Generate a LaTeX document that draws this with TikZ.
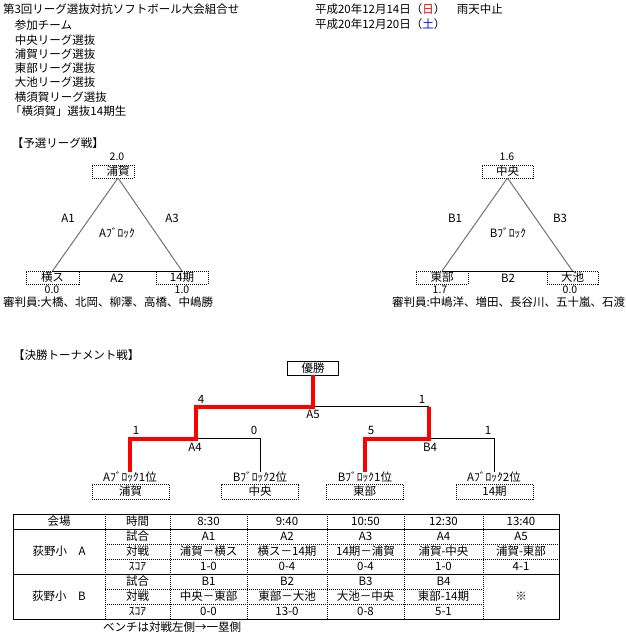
\documentclass[tikz,border=0pt]{standalone}
\usepackage{fontspec}
\setmainfont{Noto Sans CJK JP}
\begin{document}
\begin{tikzpicture}[x=1pt,y=-1pt,
  every node/.style={inner sep=0pt,outer sep=0pt,font=\fontsize{11.5}{13}\selectfont},
  lt/.style={anchor=west},
  dotbox/.style={draw,line width=1pt,dash pattern=on 1pt off 1pt,minimum height=13pt},
  tbox/.style={draw,line width=1pt,dash pattern=on 1pt off 1pt,minimum width=77pt,minimum height=15pt},
  sideline/.style={draw=black!55,line width=1pt},
  kline/.style={line width=1pt,black},
  rline/.style={line width=4pt,red,line join=miter},
  dotline/.style={line width=1pt,dash pattern=on 1pt off 1pt},
  score/.style={font=\fontsize{10.5}{12}\selectfont},
]
\useasboundingbox[fill=white] (0,0) rectangle (625,635);

% header texts
\node[lt] (title) at (3,9) {第3回リーグ選抜対抗ソフトボール大会組合せ};
\node[lt] (sanka) at (15,25) {参加チーム};
\node[lt] (tm1) at (15,40) {中央リーグ選抜};
\node[lt] (tm2) at (15,54) {浦賀リーグ選抜};
\node[lt] (tm3) at (15,68) {東部リーグ選抜};
\node[lt] (tm4) at (15,82) {大池リーグ選抜};
\node[lt] (tm5) at (15,97) {横須賀リーグ選抜};
\node[lt] (tm6) at (10,111) {「横須賀」選抜14期生};
\node[lt] (date1) at (315,9) {平成20年12月14日（\textcolor{red}{日}）　雨天中止};
\node[lt] (date2) at (315,24) {平成20年12月20日（\textcolor{blue}{土}）};

% preliminary league
\node[lt] (yosen) at (12,143) {【予選リーグ戦】};

% block A
\node[dotbox,minimum width=42pt] (boxUra) at (113,171.5) {};
\node (ura) at (118,171.5) {浦賀};
\node[dotbox,minimum width=53pt] (yoko) at (52.5,277.5) {横ス};
\node[dotbox,minimum width=52pt] (kiA) at (182,277.5) {14期};
\draw[sideline] (boxUra.south -| ura) -- (yoko.north);
\draw[sideline] (boxUra.south -| ura) -- (kiA.north);
\draw[kline] (yoko.north) -- (kiA.north);
\node[score] (sUra) at (117,157) {2.0};
\node[score] (sYoko) at (52,290) {0.0};
\node[score] (sKiA) at (182,290) {1.0};
\node (lA1) at (68,218) {A1};
\node (lA3) at (172,218) {A3};
\node (lA2) at (117,278) {A2};
\node (blkA) at (117,233) {Aﾌﾞﾛｯｸ};
\node[lt] (refA) at (3,302) {審判員:大橋、北岡、柳澤、高橋、中嶋勝};

% block B
\node[dotbox,minimum width=51pt] (chuo) at (507.5,171.5) {中央};
\node[dotbox,minimum width=52pt] (tobu) at (442,277.5) {東部};
\node[dotbox,minimum width=51pt] (oike) at (572.5,277.5) {大池};
\draw[sideline] (chuo.south) -- (tobu.north);
\draw[sideline] (chuo.south) -- (oike.north);
\draw[kline] (tobu.north) -- (oike.north);
\node[score] (sChuo) at (507,157) {1.6};
\node[score] (sTobu) at (440,290) {1.7};
\node[score] (sOike) at (570,290) {0.0};
\node (lB1) at (455,218) {B1};
\node (lB3) at (560,218) {B3};
\node (lB2) at (508,278) {B2};
\node (blkB) at (508,233) {Bﾌﾞﾛｯｸ};
\node[lt] (refB) at (392,302) {審判員:中嶋洋、増田、長谷川、五十嵐、石渡};

% tournament
\node[lt] (kessho) at (13,355) {【決勝トーナメント戦】};
\node[draw,line width=1pt,minimum width=51pt,minimum height=14pt] (yusho) at (313,368) {優勝};
\coordinate (a5) at (313,406.5);
\coordinate (a4) at (195.5,438.5);
\coordinate (b4) at (429,438.5);
\node (pA1) at (130,477) {Aﾌﾞﾛｯｸ1位};
\node (pB2) at (260,477) {Bﾌﾞﾛｯｸ2位};
\node (pB1) at (365,477) {Bﾌﾞﾛｯｸ1位};
\node (pA2) at (494,477) {Aﾌﾞﾛｯｸ2位};
\node[tbox] (fUra) at (130.5,491.5) {浦賀};
\node[tbox] (fChuo) at (260,491.5) {中央};
\node[tbox] (fTobu) at (364.5,491.5) {東部};
\node[tbox] (fKi) at (494.5,491.5) {14期};
\draw[kline] (a5) -- (a5 -| b4);
\draw[kline] (a4) -- (a4 -| pB2) -- (pB2.north);
\draw[kline] (b4) -- (b4 -| pA2) -- (pA2.north);
\draw[rline] (yusho.south) -- (a5) -- (a5 -| a4) -- (a4) -- (a4 -| pA1) -- (pA1.north);
\draw[rline] (a5 -| b4) -- (b4) -- (b4 -| pB1) -- (pB1.north);
\node (n4) at (201,399) {4};
\node (n1a) at (422,399) {1};
\node (nA5) at (313,414) {A5};
\node (n1b) at (136,430) {1};
\node (n0) at (254,430) {0};
\node (nA4) at (195,447) {A4};
\node (n5) at (371,430) {5};
\node (n1c) at (488,430) {1};
\node (nB4) at (430,447) {B4};

% table
\draw[kline] (13,514) rectangle (559,619);
\draw[kline] (13,529) -- (559,529);
\draw[kline] (13,574) -- (559,574);
\foreach \x in {105,170,247,327,404,483} \draw[dotline] (\x,514) -- (\x,619);
\foreach \y in {544,559} \draw[dotline] (105,\y) -- (559,\y);
\foreach \y in {589,604} \draw[dotline] (105,\y) -- (483,\y);

\foreach \x/\t [count=\i] in {59/会場,137.5/時間,208.5/8:30,287/9:40,365.5/10:50,443.5/12:30,521/13:40}
  \node (h\i) at (\x,521.5) {\t};
\node (venA) at (59,551.5) {荻野小　A};
\node (venB) at (59,596.5) {荻野小　B};
\foreach \y/\t [count=\i] in {536.5/試合,551.5/対戦,566.5/ｽｺｱ,581.5/試合,596.5/対戦,611.5/ｽｺｱ}
  \node (k\i) at (137.5,\y) {\t};
\foreach \x/\t [count=\i] in {208.5/A1,287/A2,365.5/A3,443.5/A4,521/A5}
  \node (ga\i) at (\x,536.5) {\t};
\foreach \x/\t [count=\i] in {208.5/浦賀－横ス,287/横ス－14期,365.5/14期－浦賀,443.5/浦賀-中央,521/浦賀-東部}
  \node (va\i) at (\x,551.5) {\t};
\foreach \x/\t [count=\i] in {208.5/1-0,287/0-4,365.5/0-4,443.5/1-0,521/4-1}
  \node (sa\i) at (\x,566.5) {\t};
\foreach \x/\t [count=\i] in {208.5/B1,287/B2,365.5/B3,443.5/B4}
  \node (gb\i) at (\x,581.5) {\t};
\foreach \x/\t [count=\i] in {208.5/中央－東部,287/東部－大池,365.5/大池－中央,443.5/東部-14期}
  \node (vb\i) at (\x,596.5) {\t};
\foreach \x/\t [count=\i] in {208.5/0-0,287/13-0,365.5/0-8,443.5/5-1}
  \node (sb\i) at (\x,611.5) {\t};
\node (kome) at (521,596.5) {※};
\node (bench) at (172,627) {ベンチは対戦左側→一塁側};
\end{tikzpicture}
\end{document}
